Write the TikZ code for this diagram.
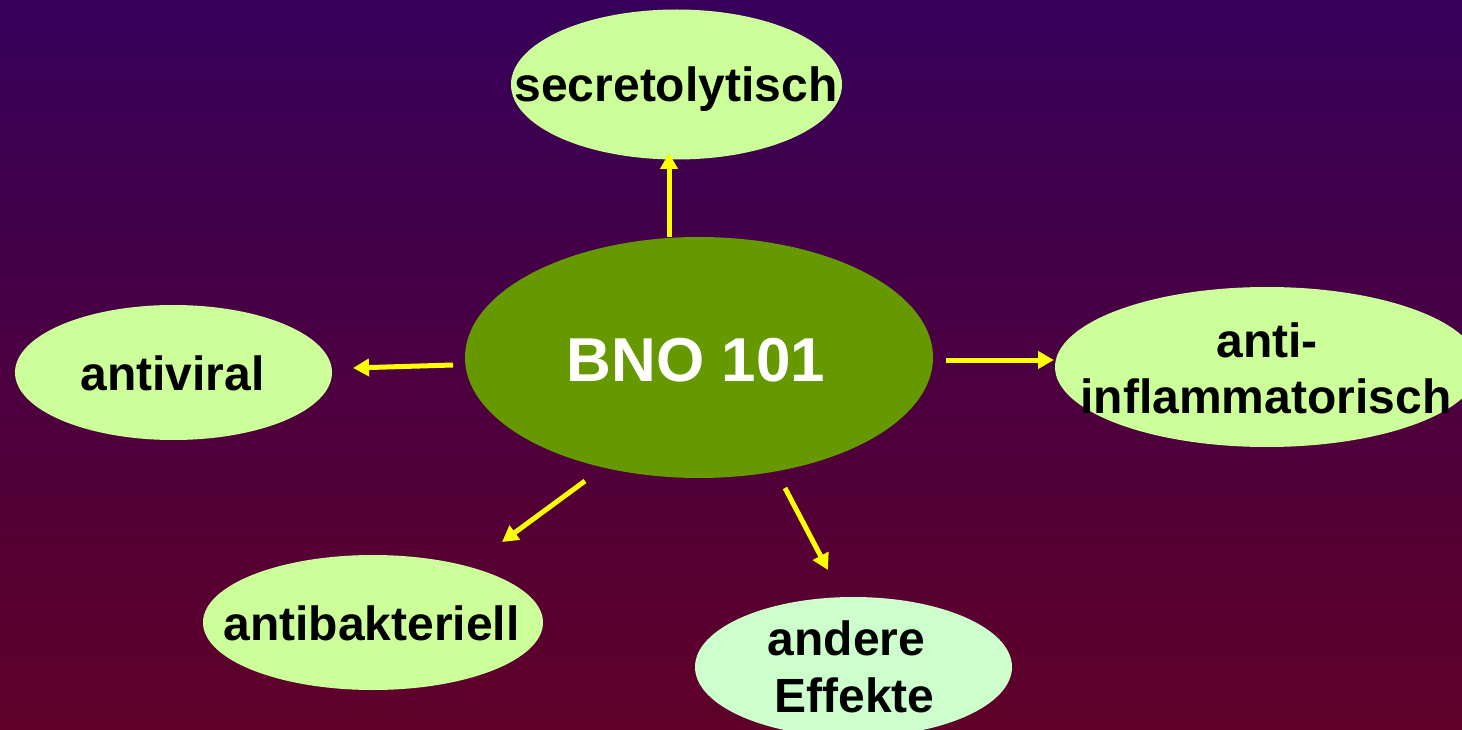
\documentclass[tikz,border=0pt]{standalone}
\usepackage{fontspec}
\setmainfont{Liberation Sans}
\usetikzlibrary{shapes.geometric,arrows.meta}
\definecolor{bgtop}{RGB}{54,0,90}
\definecolor{bgbot}{RGB}{96,0,40}
\definecolor{leaf}{RGB}{204,255,153}
\definecolor{leafalt}{RGB}{204,255,204}
\definecolor{hub}{RGB}{102,153,0}
\definecolor{arrowyellow}{RGB}{255,255,0}
\begin{document}
\begin{tikzpicture}[x=1pt,y=-1pt,
  blob/.style={ellipse, inner sep=0pt, fill=leaf, draw=none},
  lbl/.style={anchor=base, inner sep=0pt, font=\fontsize{48}{56}\selectfont\bfseries, text=black},
  eff/.style={draw=arrowyellow, line width=5pt, -{Triangle[length=16pt,width=17pt]}}]
\useasboundingbox (0,0) rectangle (1462,730);
\clip (0,0) rectangle (1462,730);
\shade[top color=bgtop,bottom color=bgbot] (0,0) rectangle (1462,730);

% ellipses
\node[blob, minimum width=331pt, minimum height=150pt] (sec) at (676.5,84.5) {};
\node[blob, fill=hub, minimum width=468pt, minimum height=241pt] (bno) at (699,357.5) {};
\node[blob, minimum width=317pt, minimum height=135pt] (viral) at (173.5,372.5) {};
\node[blob, minimum width=424pt, minimum height=160pt] (infl) at (1267,367) {};
\node[blob, minimum width=340pt, minimum height=135pt] (bakt) at (373,622.5) {};
\node[blob, fill=leafalt, minimum width=317pt, minimum height=140pt] (andere) at (853.5,667) {};

% labels
\node[lbl] (sec-t) at (676,102) {secretolytisch};
\node[lbl, text=white, font=\fontsize{62}{70}\selectfont\bfseries] (bno-t) at (696,381) {BNO 101};
\node[lbl] (viral-t) at (172.5,390) {antiviral};
\node[lbl] (infl-t1) at (1267,357) {anti-};
\node[lbl] (infl-t2) at (1266,413) {inflammatorisch};
\node[lbl] (bakt-t) at (371.5,640) {antibakteriell};
\node[lbl] (andere-t1) at (846.5,655) {andere};
\node[lbl] (andere-t2) at (854.5,712) {Effekte};

% arrow end points
\coordinate (up-s) at (669,237);
\coordinate (up-e) at (669,153);
\coordinate (lf-s) at (453,365);
\coordinate (lf-e) at (353,368);
\coordinate (rt-s) at (946,360);
\coordinate (rt-e) at (1054,360);
\coordinate (ll-s) at (585,481);
\coordinate (ll-e) at (502,542);
\coordinate (lr-s) at (785,488);
\coordinate (lr-e) at (828,570);

\draw[eff] (up-s) -- (up-e);
\draw[eff] (lf-s) -- (lf-e);
\draw[eff] (rt-s) -- (rt-e);
\draw[eff] (ll-s) -- (ll-e);
\draw[eff] (lr-s) -- (lr-e);
\end{tikzpicture}
\end{document}
